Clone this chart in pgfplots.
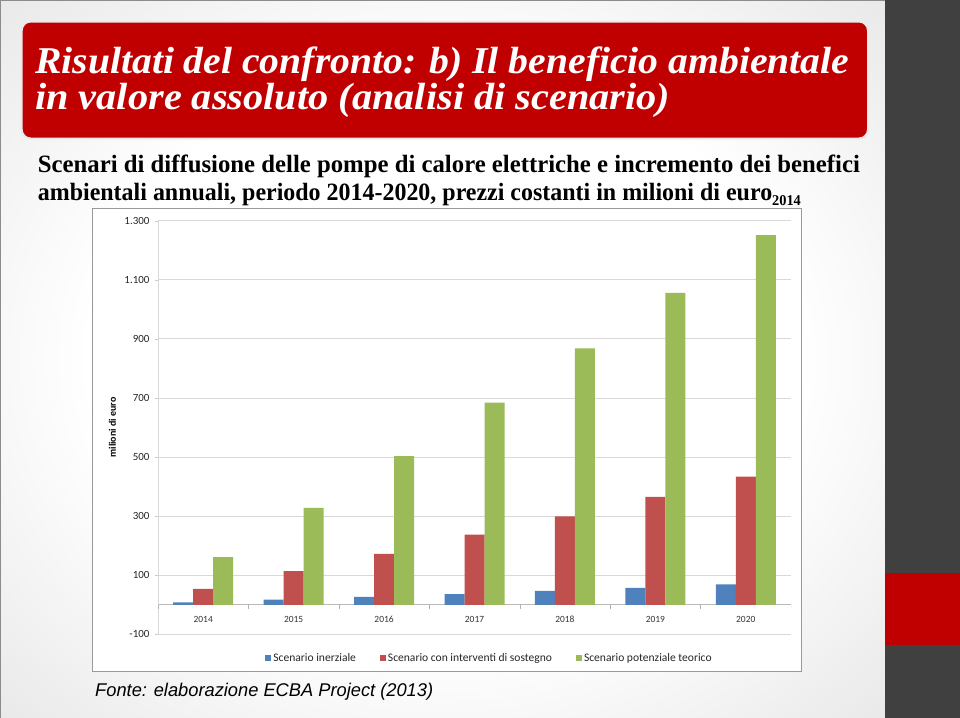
\documentclass[border=0pt]{standalone}
\usepackage{pgfplots}
\pgfplotsset{compat=1.18}
\usepackage{fontspec}
\usepackage{graphicx}
\setmainfont{Liberation Serif}
\newfontfamily\carlito{Carlito}
\newfontfamily\arialfont{Liberation Sans}
\definecolor{titlered}{HTML}{C00000}
\definecolor{darkbar}{HTML}{404040}
\definecolor{s1}{HTML}{4F81BD}
\definecolor{s2}{HTML}{C0504D}
\definecolor{s3}{HTML}{9BBB59}
\pgfdeclareradialshading{vignette}{\pgfpoint{0bp}{0bp}}{color(0bp)=(white); color(20bp)=(white); color(36bp)=(black!9); color(50bp)=(black!20)}

\begin{document}
\begin{tikzpicture}
\useasboundingbox (0,0) rectangle (960bp,-718bp);
\begin{scope}[x=1bp,y=-1bp]
  \shade[shading=vignette] (0,0) rectangle (885,718);
  \fill[darkbar] (885,0) rectangle (960,718);
  \fill[titlered] (885,573) rectangle (960,645);
  \draw[black!45, line width=1bp] (0.5,718) -- (0.5,0.5) -- (885,0.5);
  \draw[black!8, line width=2bp, fill=titlered, rounded corners=9bp] (21.7,21.5) rectangle (868,138.5);
  \node[anchor=base west, inner sep=0pt, text=white] at (35,73.5)
    {\resizebox{814bp}{\height}{\fontsize{38}{38}\selectfont\bfseries\itshape Risultati del confronto: b) Il beneficio ambientale}};
  \node[anchor=base west, inner sep=0pt, text=white] at (35,110)
    {\resizebox{635bp}{\height}{\fontsize{38}{38}\selectfont\bfseries\itshape in valore assoluto (analisi di scenario)}};
  \node[anchor=base west, inner sep=0pt] at (37.7,172.5)
    {\resizebox{822bp}{\height}{\fontsize{25}{25}\selectfont\bfseries Scenari di diffusione delle pompe di calore elettriche e incremento dei benefici}};
  \node[anchor=base west, inner sep=0pt] at (37.7,201)
    {\resizebox{763bp}{\height}{\fontsize{25}{25}\selectfont\bfseries ambientali annuali, periodo 2014-2020, prezzi costanti in milioni di euro\raisebox{-5bp}{\fontsize{15}{15}\selectfont 2014}}};
  \draw[black!40, fill=white, line width=1bp] (92.3,208.3) rectangle (801.7,671.7);
  \node[anchor=base west, inner sep=0pt] at (95,696.7)
    {\resizebox{338bp}{\height}{\arialfont\fontsize{18.5}{18.5}\selectfont\itshape Fonte: elaborazione ECBA Project (2013)}};
\end{scope}

\begin{axis}[
  at={(158bp,-634.3bp)}, anchor=south west,
  scale only axis, width=633bp, height=413.6bp,
  xmin=-0.5, xmax=6.5, ymin=-100, ymax=1300,
  ybar=0pt, bar width=20bp,
  axis x line=middle, axis y line*=left,
  axis line style={-, draw=gray!55, line width=0.8bp},
  y axis line style={draw=gray!30},
  ytick={-100,100,...,1300},
  xtick={0,...,6}, xticklabels={2014,2015,2016,2017,2018,2019,2020},
  xtick style={draw=none},
  ytick style={draw=gray!40},
  tick align=outside, major tick length=3bp,
  ymajorgrids, major grid style={draw=gray!30, line width=0.8bp},
  scaled y ticks=false,
  /pgf/number format/assume math mode=true,
  /pgf/number format/1000 sep={.},
  yticklabel style={font=\carlito\fontsize{11}{11}\selectfont, text=black!85, xshift=-2bp},
  xticklabel style={font=\carlito\fontsize{9.5}{9.5}\selectfont, text=black!80, yshift=-5bp},
  ylabel={milioni di euro},
  ylabel style={font=\carlito\bfseries\fontsize{10}{10}\selectfont, at={(axis description cs:-0.072,0.5)}, anchor=center},
  legend style={at={(axis description cs:0.5237,0)}, anchor=north, yshift=-15bp, draw=none, fill=none,
    legend columns=3, font=\carlito\fontsize{11.6}{13}\selectfont, text=black!85,
    /tikz/every even column/.append style={column sep=22bp}},
  legend image code/.code={\fill[#1] (0bp,-3bp) rectangle (6bp,3bp);},
]
\addplot[fill=s1, draw=none] coordinates {(0,8) (1,17) (2,27) (3,36) (4,47) (5,57) (6,69)};
\addplot[fill=s2, draw=none] coordinates {(0,54) (1,114) (2,172) (3,237) (4,299) (5,365) (6,434)};
\addplot[fill=s3, draw=none] coordinates {(0,161) (1,328) (2,503) (3,684) (4,868) (5,1056) (6,1251)};
\legend{Scenario inerziale, Scenario con interventi di sostegno, Scenario potenziale teorico}
\draw[gray!60] (axis cs:-0.5,0) -- ++(0bp,-4bp);
\draw[gray!60] (axis cs:0.5,0) -- ++(0bp,-4bp);
\draw[gray!60] (axis cs:1.5,0) -- ++(0bp,-4bp);
\draw[gray!60] (axis cs:2.5,0) -- ++(0bp,-4bp);
\draw[gray!60] (axis cs:3.5,0) -- ++(0bp,-4bp);
\draw[gray!60] (axis cs:4.5,0) -- ++(0bp,-4bp);
\draw[gray!60] (axis cs:5.5,0) -- ++(0bp,-4bp);
\draw[gray!60] (axis cs:6.5,0) -- ++(0bp,-4bp);
\end{axis}
\end{tikzpicture}
\end{document}
